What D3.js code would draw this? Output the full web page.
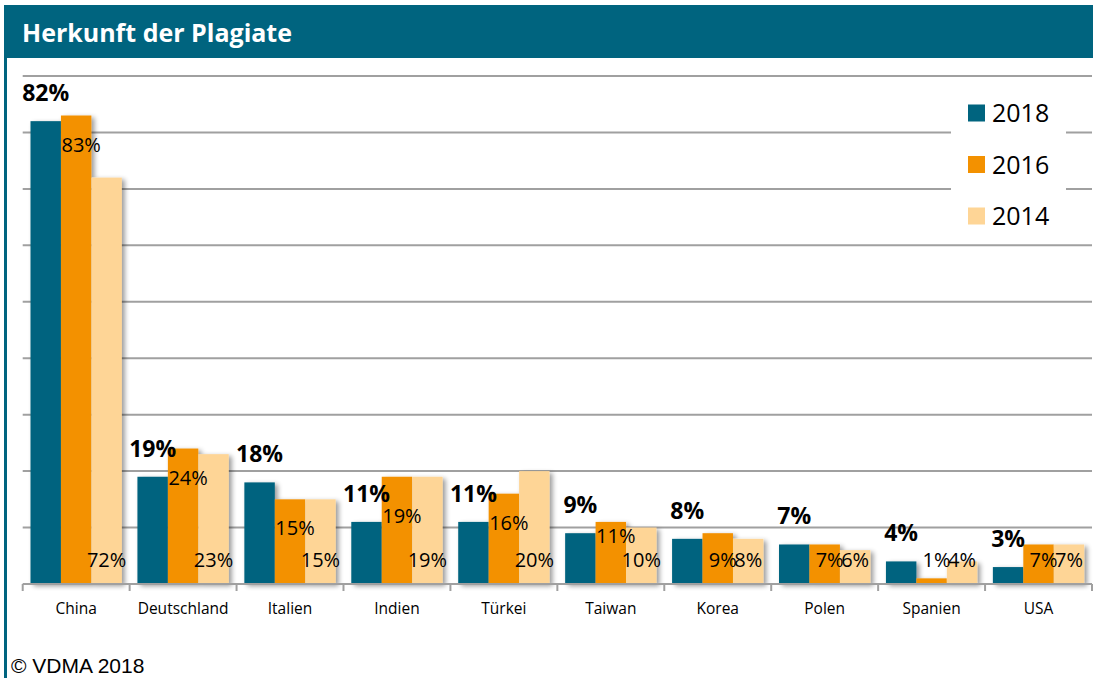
<!DOCTYPE html>
<html>
<head>
<meta charset="utf-8">
<script src="https://cdn.jsdelivr.net/npm/d3@7"></script>
<style>
  body { margin: 0; background: #fff; }
  svg { display: block; }
</style>
</head>
<body>
<svg width="1094" height="678"></svg>
<script>
const countries = ["China", "Deutschland", "Italien", "Indien", "Türkei", "Taiwan", "Korea", "Polen", "Spanien", "USA"];
const years = ["2018", "2016", "2014"];
const v2018 = [82, 19, 18, 11, 11, 9, 8, 7, 4, 3];
const v2016 = [83, 24, 15, 19, 16, 11, 9, 7, 1, 7];
const v2014 = [72, 23, 15, 19, 20, 10, 8, 6, 4, 7];
const yTicks = [10, 20, 30, 40, 50, 60, 70, 80, 90];

const colors = { "2018": "#00647f", "2016": "#f39100", "2014": "#fed596" };
const teal = "#00647f";

const svg = d3.select("svg");
const margin = { top: 76, left: 22.7, right: 2, bottom: 94 };
const width = 1094 - margin.left - margin.right;
const baseY = 584;

const x = d3.scaleBand().domain(countries).range([margin.left, margin.left + width]).paddingInner(0).paddingOuter(0);
const y = d3.scaleLinear().domain([0, 90]).range([baseY, margin.top]);

const defs = svg.append("defs");
const f = defs.append("filter").attr("id", "shadow").attr("x", "-20%").attr("y", "-20%").attr("width", "150%").attr("height", "150%");
f.append("feGaussianBlur").attr("in", "SourceAlpha").attr("stdDeviation", 2.5);
f.append("feOffset").attr("dx", 3).attr("dy", 2).attr("result", "b");
f.append("feComponentTransfer").append("feFuncA").attr("type", "linear").attr("slope", 0.4);
const fm = f.append("feMerge");
fm.append("feMergeNode");
fm.append("feMergeNode").attr("in", "SourceGraphic");

// header + frame
svg.append("rect").attr("x", 4).attr("y", 5).attr("width", 1089).attr("height", 53).attr("fill", teal);
svg.append("rect").attr("x", 4).attr("y", 58).attr("width", 3).attr("height", 620).attr("fill", teal);
svg.append("text").attr("x", 22).attr("y", 42)
  .attr("font-family", "Open Sans").attr("font-weight", "bold").attr("font-size", 25)
  .attr("fill", "#fff").text("Herkunft der Plagiate");

// grid
svg.append("g").selectAll("line").data(yTicks).join("line")
  .attr("x1", margin.left).attr("x2", margin.left + width)
  .attr("y1", d => y(d)).attr("y2", d => y(d))
  .attr("stroke", "#a0a0a0").attr("stroke-width", 2);

// bars
const groupPad = 7.8;
const bw = (x.bandwidth() - 2 * groupPad) / 3;
const series = [v2018, v2016, v2014];
const rows = [];
countries.forEach((c, i) => {
  years.forEach((yr, j) => rows.push({ c, yr, j, i, v: series[j][i] }));
});
const bx = d => x(d.c) + groupPad + d.j * bw;

svg.append("g").attr("filter", "url(#shadow)").selectAll("rect").data(rows).join("rect")
  .attr("x", bx).attr("width", bw)
  .attr("y", d => y(d.v)).attr("height", d => baseY - y(d.v))
  .attr("fill", d => colors[d.yr]);

// axis
const axis = svg.append("g");
axis.append("line").attr("x1", margin.left).attr("x2", margin.left + width)
  .attr("y1", baseY).attr("y2", baseY).attr("stroke", "#a0a0a0").attr("stroke-width", 2);
const edges = countries.map(c => x(c)).concat([margin.left + width]);
axis.selectAll(".tk").data(edges).join("line")
  .attr("x1", d => d).attr("x2", d => d).attr("y1", baseY).attr("y2", baseY + 7)
  .attr("stroke", "#a0a0a0").attr("stroke-width", 2);
axis.selectAll("text").data(countries).join("text")
  .attr("x", d => x(d) + x.bandwidth() / 2).attr("y", 614)
  .attr("text-anchor", "middle").attr("font-family", "Open Sans").attr("font-size", 15.5)
  .attr("fill", "#000").text(d => d);

// labels
const lab = svg.append("g").attr("font-family", "Open Sans").attr("text-anchor", "middle").attr("fill", "#000");
const y18 = d => y(d.v) - 20;
lab.selectAll(".l18").data(rows.filter(d => d.j === 0)).join("text")
  .attr("x", d => bx(d) + bw / 2).attr("y", y18)
  .attr("font-weight", "bold").attr("font-size", 23).text(d => d.v + "%");
const y16 = d => {
  let p = Math.min(y(d.v) + 36, 567);
  const above = y(v2018[d.i]) - 20; // baseline of the 2018 label of the same group
  if (p - 16 < above && p > above - 24) p = above + 21; // keep below the bold label
  if (d.v >= 10 && p > 543) p = 543; // keep two-digit labels clear of the 2014 label
  return p;
};
lab.selectAll(".l16").data(rows.filter(d => d.j === 1)).join("text")
  .attr("x", d => bx(d) + bw / 2 + 5).attr("y", y16)
  .attr("font-size", 20).text(d => d.v + "%");
lab.selectAll(".l14").data(rows.filter(d => d.j === 2)).join("text")
  .attr("x", d => bx(d) + bw / 2).attr("y", 567)
  .attr("font-size", 20).text(d => d.v + "%");

// legend
const leg = svg.append("g");
leg.append("rect").attr("x", 951).attr("y", 90).attr("width", 115).attr("height", 148).attr("fill", "#fff");
const li = leg.selectAll("g").data(years).join("g")
  .attr("transform", (d, i) => `translate(968,${113 + i * 51.5})`);
li.append("rect").attr("x", 0).attr("y", -8.5).attr("width", 17).attr("height", 17).attr("fill", d => colors[d]);
li.append("text").attr("x", 24).attr("y", 9).attr("font-family", "Open Sans").attr("font-size", 25)
  .attr("fill", "#000").text(d => d);

// footer
svg.append("text").attr("x", 11).attr("y", 673)
  .attr("font-family", "Liberation Sans").attr("font-size", 21).attr("fill", "#000").text("© VDMA 2018");
</script>
</body>
</html>
